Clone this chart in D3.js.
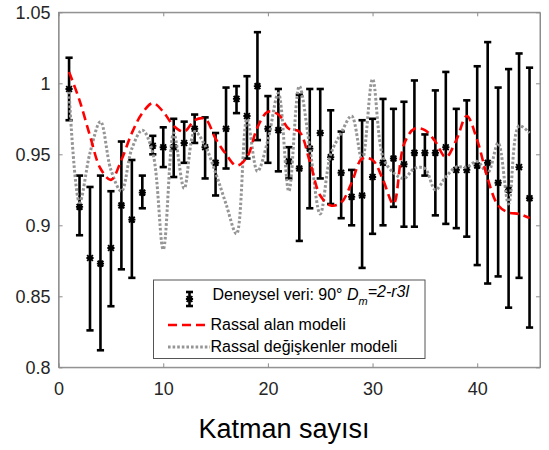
<!DOCTYPE html>
<html>
<head>
    <meta charset="utf-8">
    <title>Katman sayisi</title>
    <style>
        body { margin: 0; background: #fff; }
        text { font-family: "Liberation Sans", Arial, sans-serif; }
    </style>
</head>
<body>
    <script src="https://cdnjs.cloudflare.com/ajax/libs/d3/7.9.0/d3.min.js"></script>
    <script>

        // layer numbers 1..45
        const layers = [1,2,3,4,5,6,7,8,9,10,11,12,13,14,15,16,17,18,19,20,21,22,23,24,25,26,27,28,29,30,31,32,33,34,35,36,37,38,39,40,41,42,43,44,45];

        // experimental data (mean, upper, lower)
        const measured = [0.996,0.913,0.877,0.873,0.884,0.914,0.904,0.923,0.956,0.955,0.955,0.958,0.968,0.955,0.944,0.968,0.989,0.977,0.998,0.968,0.967,0.945,0.940,0.954,0.965,0.948,0.937,0.920,0.921,0.934,0.944,0.947,0.943,0.951,0.951,0.951,0.955,0.939,0.939,0.942,0.944,0.930,0.925,0.941,0.919];
        const upper = [1.018,0.935,0.927,0.935,0.924,0.959,0.946,0.935,0.963,0.969,0.975,0.973,0.978,0.976,0.965,0.997,0.998,1.005,1.036,0.991,0.996,0.955,0.992,0.996,0.996,0.981,0.966,0.939,0.974,0.975,0.989,0.982,0.987,1.002,0.964,0.995,1.008,0.982,0.988,1.012,1.029,0.997,1.010,1.021,1.011];
        const lower = [0.974,0.893,0.826,0.812,0.843,0.869,0.863,0.912,0.950,0.941,0.934,0.944,0.958,0.933,0.921,0.940,0.979,0.947,0.960,0.944,0.938,0.933,0.889,0.912,0.933,0.915,0.905,0.900,0.870,0.894,0.900,0.913,0.899,0.899,0.935,0.907,0.901,0.898,0.892,0.872,0.859,0.864,0.842,0.863,0.828];

        // model curves
        const randomField = [1.008,0.988,0.963,0.940,0.932,0.946,0.965,0.979,0.986,0.980,0.970,0.966,0.974,0.975,0.961,0.950,0.942,0.948,0.969,0.980,0.978,0.968,0.966,0.945,0.921,0.914,0.916,0.930,0.947,0.946,0.932,0.915,0.957,0.968,0.967,0.959,0.948,0.960,0.977,0.960,0.933,0.914,0.909,0.908,0.905];
        const randomVars = [0.994,0.916,0.951,0.973,0.939,0.924,0.954,0.967,0.951,0.883,0.965,0.926,0.966,0.956,0.937,0.915,0.894,0.975,0.938,0.960,0.993,0.924,0.998,0.955,0.908,0.950,0.965,0.977,0.946,1.003,0.948,0.937,0.933,0.940,0.940,0.925,0.934,0.941,0.941,0.945,0.937,0.958,0.915,0.970,0.965];

        const xTicks = [0,10,20,30,40];
        const yTicks = [0.8,0.85,0.9,0.95,1,1.05];
        const yTickLabels = ["0.8","0.85","0.9","0.95","1","1.05"];

        const width = 549;
        const height = 450;
        const margin = {top: 12.3, right: 9, bottom: 82.7, left: 58.6};

        const svg = d3.select("body")
            .append("svg")
            .attr("width", width)
            .attr("height", height);

        const x = d3.scaleLinear()
            .domain([0, 46])
            .range([margin.left, width - margin.right]);

        const y = d3.scaleLinear()
            .domain([0.8, 1.05])
            .range([height - margin.bottom, margin.top]);

        const axisColor = "#8c8c8c";

        // frame
        svg.append("rect")
            .attr("x", x(0))
            .attr("y", y(1.05))
            .attr("width", x(46) - x(0))
            .attr("height", y(0.8) - y(1.05))
            .attr("fill", "#fff")
            .attr("stroke", axisColor);

        // bottom axis
        svg.append("g")
            .attr("transform", `translate(0,${y(0.8)})`)
            .call(d3.axisBottom(x).tickValues(xTicks).tickSizeInner(-4).tickSizeOuter(0).tickPadding(14.5))
            .call(g => g.select(".domain").attr("stroke", axisColor));

        // top axis (ticks only)
        svg.append("g")
            .attr("transform", `translate(0,${y(1.05)})`)
            .call(d3.axisTop(x).tickValues(xTicks).tickSizeInner(-4).tickSizeOuter(0).tickFormat(""))
            .call(g => g.select(".domain").attr("stroke", axisColor));

        // left axis
        svg.append("g")
            .attr("transform", `translate(${x(0)},0)`)
            .call(d3.axisLeft(y).tickValues(yTicks).tickSizeInner(-4).tickSizeOuter(0).tickPadding(8)
                .tickFormat((d, i) => yTickLabels[i]))
            .call(g => g.select(".domain").attr("stroke", axisColor));

        // right axis (ticks only)
        svg.append("g")
            .attr("transform", `translate(${x(46)},0)`)
            .call(d3.axisRight(y).tickValues(yTicks).tickSizeInner(-4).tickSizeOuter(0).tickFormat(""))
            .call(g => g.select(".domain").attr("stroke", axisColor));

        svg.selectAll(".tick line").attr("stroke", axisColor);
        svg.selectAll(".tick text")
            .attr("font-size", "18px")
            .attr("font-family", "Liberation Sans, Arial, sans-serif")
            .attr("fill", "#262626");

        // x axis label
        svg.append("text")
            .attr("x", 284)
            .attr("y", 438)
            .attr("text-anchor", "middle")
            .attr("font-size", "27px")
            .attr("fill", "#000")
            .text("Katman sayısı");

        const data = layers.map((d, i) => ({
            k: d, m: measured[i], hi: upper[i], lo: lower[i],
            rf: randomField[i], rv: randomVars[i]
        }));

        // error bars
        const bars = svg.append("g")
            .attr("stroke", "#000")
            .attr("stroke-width", 2.6)
            .attr("fill", "none");

        const cap = 3.6;
        data.forEach(d => {
            const cx = x(d.k);
            bars.append("line")
                .attr("x1", cx).attr("x2", cx)
                .attr("y1", y(d.hi)).attr("y2", y(d.lo));
            bars.append("line")
                .attr("x1", cx - cap).attr("x2", cx + cap)
                .attr("y1", y(d.hi)).attr("y2", y(d.hi));
            bars.append("line")
                .attr("x1", cx - cap).attr("x2", cx + cap)
                .attr("y1", y(d.lo)).attr("y2", y(d.lo));
        });

        // star markers
        function star(g, cx, cy, r) {
            g.append("path")
                .attr("d", `M${cx - r},${cy}H${cx + r}M${cx},${cy - r}V${cy + r}` +
                    `M${cx - r * 0.8},${cy - r * 0.8}L${cx + r * 0.8},${cy + r * 0.8}` +
                    `M${cx - r * 0.8},${cy + r * 0.8}L${cx + r * 0.8},${cy - r * 0.8}`)
                .attr("stroke", "#000")
                .attr("stroke-width", 1.9);
        }
        const marks = svg.append("g");
        data.forEach(d => star(marks, x(d.k), y(d.m), 3.6));

        // model lines
        const lineRF = d3.line()
            .x(d => x(d.k))
            .y(d => y(d.rf))
            .curve(d3.curveCatmullRom);

        const lineRV = d3.line()
            .x(d => x(d.k))
            .y(d => y(d.rv))
            .curve(d3.curveCatmullRom);

        svg.append("path")
            .datum(data)
            .attr("d", lineRV)
            .attr("fill", "none")
            .attr("stroke", "#959595")
            .attr("stroke-width", 3)
            .attr("stroke-dasharray", "2.6,2");

        svg.append("path")
            .datum(data)
            .attr("d", lineRF)
            .attr("fill", "none")
            .attr("stroke", "#ff0000")
            .attr("stroke-width", 2.6)
            .attr("stroke-dasharray", "9,5");

        // legend
        const lg = svg.append("g");
        lg.append("rect")
            .attr("x", 153.5)
            .attr("y", 280)
            .attr("width", 271.5)
            .attr("height", 78.5)
            .attr("fill", "#fff")
            .attr("stroke", "#555")
            .attr("stroke-width", 1);

        // legend errorbar icon
        const ib = lg.append("g").attr("stroke", "#000").attr("stroke-width", 2.6);
        ib.append("line").attr("x1", 189.5).attr("x2", 189.5).attr("y1", 292).attr("y2", 306);
        ib.append("line").attr("x1", 186).attr("x2", 193).attr("y1", 292).attr("y2", 292);
        ib.append("line").attr("x1", 186).attr("x2", 193).attr("y1", 306).attr("y2", 306);
        star(lg, 189.5, 299, 3.6);

        const t1 = lg.append("text")
            .attr("x", 212.5)
            .attr("y", 300)
            .attr("font-size", "16px")
            .attr("fill", "#000");
        t1.append("tspan").text("Deneysel veri: 90° ");
        t1.append("tspan").attr("font-style", "italic").text("D");
        t1.append("tspan").attr("font-style", "italic").attr("font-size", "11px").attr("dy", 5).text("m");
        t1.append("tspan").attr("font-style", "italic").attr("dy", -8).text("=2-r3l");

        lg.append("line")
            .attr("x1", 168).attr("x2", 210)
            .attr("y1", 325).attr("y2", 325)
            .attr("stroke", "#ff0000")
            .attr("stroke-width", 2.6)
            .attr("stroke-dasharray", "9,5");
        lg.append("text")
            .attr("x", 210.5)
            .attr("y", 330)
            .attr("font-size", "16px")
            .attr("fill", "#000")
            .text("Rassal alan modeli");

        lg.append("line")
            .attr("x1", 168).attr("x2", 210)
            .attr("y1", 347).attr("y2", 347)
            .attr("stroke", "#959595")
            .attr("stroke-width", 3)
            .attr("stroke-dasharray", "2.6,2");
        lg.append("text")
            .attr("x", 210.5)
            .attr("y", 352.3)
            .attr("font-size", "16px")
            .attr("fill", "#000")
            .text("Rassal değişkenler modeli");

    </script>
</body>
</html>
